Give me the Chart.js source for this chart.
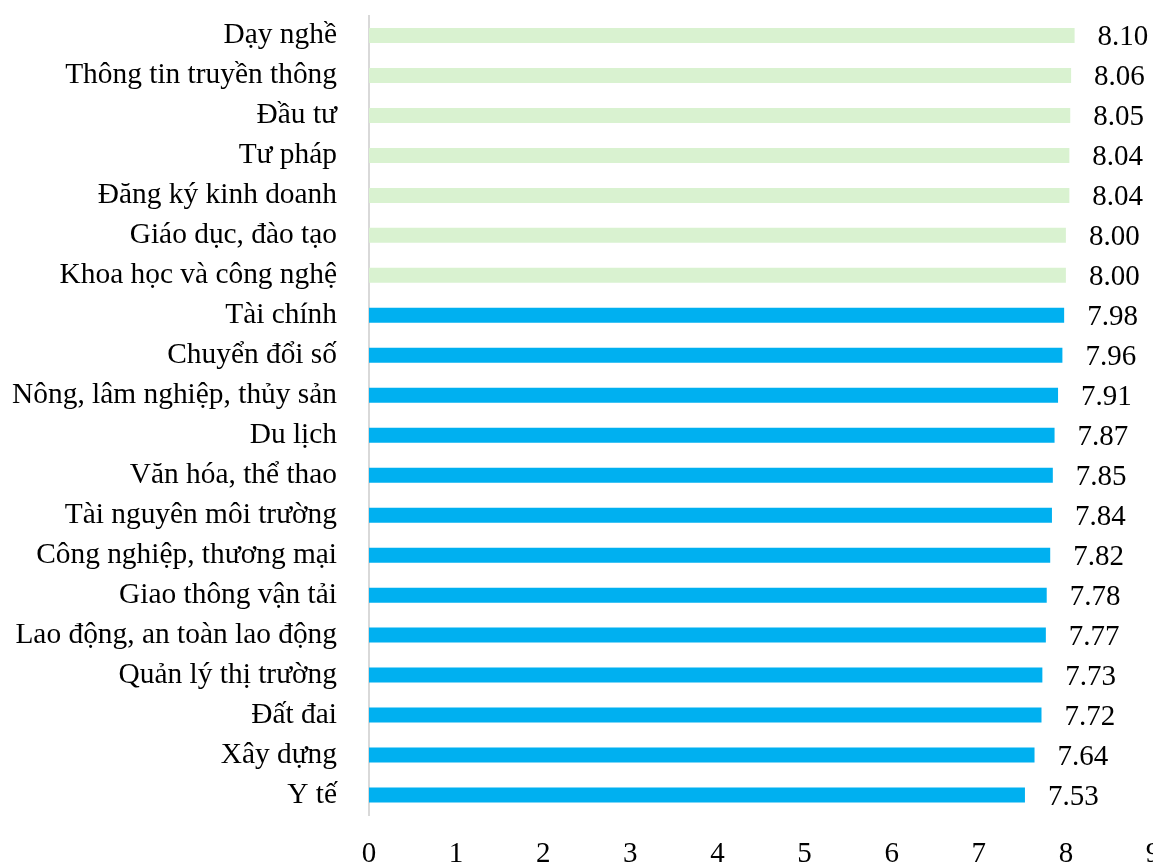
<!DOCTYPE html>
<html>
<head>
<meta charset="utf-8">
<script src="https://cdn.jsdelivr.net/npm/chart.js@4"></script>
<style>
  html, body { margin: 0; padding: 0; background: #fff; overflow: hidden; }
  #wrap { position: relative; width: 1153px; height: 862px; }
</style>
</head>
<body>
<div id="wrap"><canvas id="scoreChart"></canvas></div>
<script>
const categories = [
    'Dạy nghề', 'Thông tin truyền thông', 'Đầu tư', 'Tư pháp', 'Đăng ký kinh doanh',
    'Giáo dục, đào tạo', 'Khoa học và công nghệ', 'Tài chính', 'Chuyển đổi số',
    'Nông, lâm nghiệp, thủy sản', 'Du lịch', 'Văn hóa, thể thao', 'Tài nguyên môi trường',
    'Công nghiệp, thương mại', 'Giao thông vận tải', 'Lao động, an toàn lao động',
    'Quản lý thị trường', 'Đất đai', 'Xây dựng', 'Y tế'
];
const scores = [
    8.10, 8.06, 8.05, 8.04, 8.04, 8.00, 8.00, 7.98, 7.96, 7.91,
    7.87, 7.85, 7.84, 7.82, 7.78, 7.77, 7.73, 7.72, 7.64, 7.53
];
const xTicks = [0, 1, 2, 3, 4, 5, 6, 7, 8, 9];

const FONT = "'Liberation Serif', 'Times New Roman', serif";

// draws the value next to the end of each bar
const valueLabels = {
    id: 'valueLabels',
    afterDatasetsDraw(chart) {
        const ctx = chart.ctx;
        const meta = chart.getDatasetMeta(0);
        ctx.save();
        ctx.font = '29px ' + FONT;
        ctx.fillStyle = '#000';
        ctx.textAlign = 'left';
        ctx.textBaseline = 'middle';
        meta.data.forEach((bar, i) => {
            ctx.fillText(scores[i].toFixed(2), bar.x + 23, bar.y + 2);
        });
        ctx.restore();
    }
};

const ctx = document.getElementById('scoreChart').getContext('2d');

new Chart(ctx, {
    type: 'bar',
    data: {
        labels: categories,
        datasets: [{
            data: scores,
            backgroundColor: (c) => scores[c.dataIndex] >= 8 ? '#D9F2D0' : '#00B0F0',
            categoryPercentage: 1,
            barPercentage: 0.375,
            borderWidth: 0
        }]
    },
    options: {
        indexAxis: 'y',
        responsive: true,
        maintainAspectRatio: false,
        animation: false,
        layout: { padding: { top: 15.5, left: 0, right: 0, bottom: 0 } },
        plugins: {
            legend: { display: false },
            tooltip: { enabled: false }
        },
        scales: {
            x: {
                min: 0,
                max: 9,
                afterBuildTicks: (scale) => {
                    scale.ticks = xTicks.map(v => ({ value: v }));
                },
                afterFit: (scale) => {
                    scale.height = 47;
                    scale.paddingLeft = 0;
                    scale.paddingRight = 0;
                },
                grid: { display: false, drawTicks: false },
                border: { display: false },
                ticks: {
                    color: '#000',
                    padding: 22,
                    maxRotation: 0,
                    font: { family: FONT, size: 29 }
                }
            },
            y: {
                afterFit: (scale) => {
                    scale.width = 369;
                    scale.paddingTop = 0;
                    scale.paddingBottom = 0;
                },
                grid: { display: false, drawTicks: false },
                border: { display: true, color: '#D9D9D9', width: 2 },
                ticks: {
                    color: '#000',
                    padding: 32,
                    autoSkip: false,
                    font: { family: FONT, size: 29.4 }
                }
            }
        }
    },
    plugins: [valueLabels]
});
</script>
</body>
</html>
